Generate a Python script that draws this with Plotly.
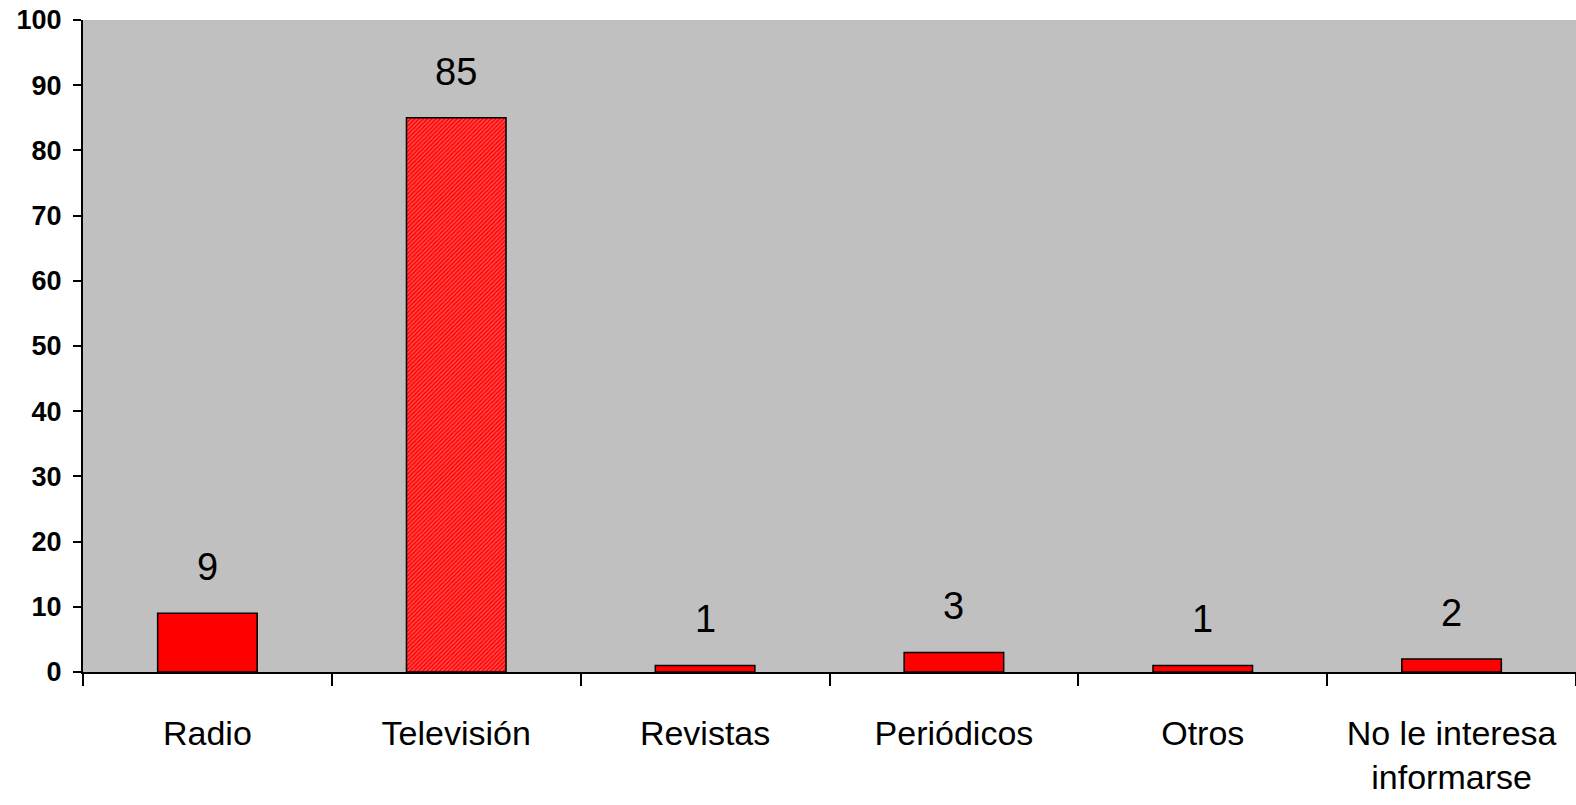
import plotly.graph_objects as go

categories = ["Radio", "Televisión", "Revistas", "Periódicos", "Otros", "No le interesa<br>informarse"]
values = [9, 85, 1, 3, 1, 2]
hatched = [False, True, False, False, False, False]
y_ticks = [0, 10, 20, 30, 40, 50, 60, 70, 80, 90, 100]

label_font = dict(family="Liberation Sans", size=34, color="black")

fig = go.Figure()
fig.add_trace(
    go.Bar(
        x=categories,
        y=values,
        width=0.4,
        marker=dict(
            color="red",
            line=dict(color="black", width=1.5),
            pattern=dict(
                shape=["/" if h else "" for h in hatched],
                fgcolor="#ff9a9a",
                bgcolor="red",
                size=3,
                solidity=0.5,
            ),
        ),
        showlegend=False,
    )
)

# value labels above the bars
for cat, val in zip(categories, values):
    fig.add_annotation(
        x=cat, y=val, text=str(val),
        showarrow=False, yanchor="bottom", yshift=23,
        font=dict(family="Liberation Sans", size=38, color="black"),
    )

fig.update_layout(
    width=1576,
    height=805,
    margin=dict(l=83, r=0, t=20, b=133),
    plot_bgcolor="#c0c0c0",
    paper_bgcolor="white",
    bargap=0.6,
)
fig.update_xaxes(
    showline=True, linecolor="black", linewidth=1.5,
    ticks="outside", tickson="boundaries", ticklen=12, tickwidth=1.5, tickcolor="black",
    tickfont=label_font,
    ticklabelstandoff=30,
    showgrid=False,
    automargin=False,
)
fig.update_yaxes(
    range=[0, 100],
    tickvals=y_ticks,
    showline=True, linecolor="black", linewidth=2,
    ticks="outside", ticklen=8, tickwidth=1.5, tickcolor="black",
    tickfont=dict(family="Liberation Sans", size=27, color="black", weight="bold"),
    ticklabelstandoff=6,
    ticklabeloverflow="allow",
    showgrid=False,
    zeroline=False,
    automargin=False,
)

# drop the default body margin so the figure fills the window
fig.write_html(
    "out.html",
    config={"displayModeBar": False},
    post_script="document.body.style.margin='0';",
)
